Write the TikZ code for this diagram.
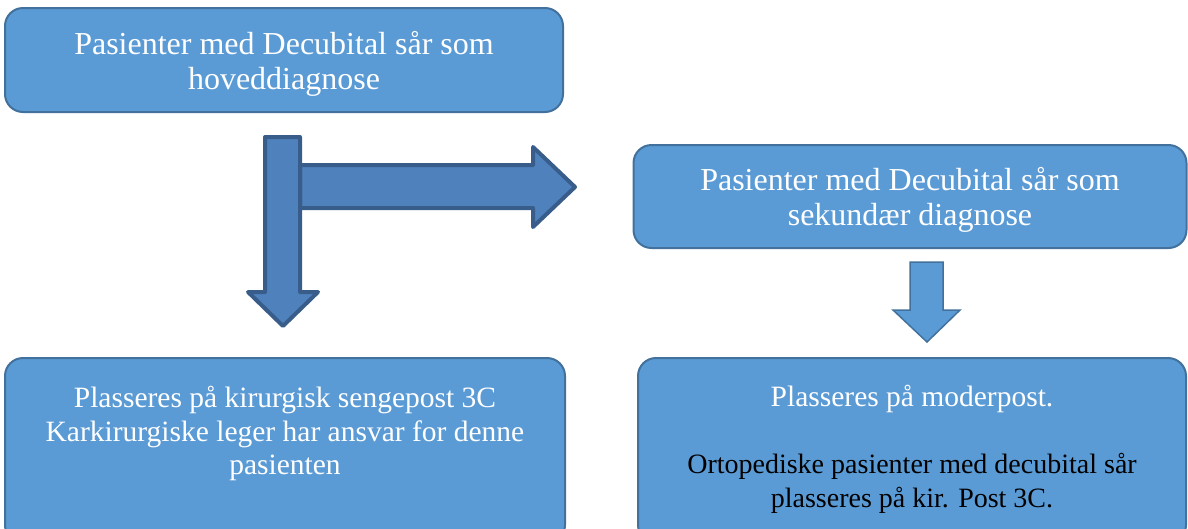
\documentclass[tikz,border=0pt]{standalone}
\usepackage{fontspec}
\setmainfont{Liberation Serif}
\usetikzlibrary{positioning}
\definecolor{boxfill}{HTML}{5B9BD5}
\definecolor{boxborder}{HTML}{41719C}
\definecolor{bentfill}{HTML}{4F81BD}
\definecolor{bentborder}{HTML}{385D8A}
\tikzset{
    x={1pt},
    y={-1pt},
    flow box/.style={
        rectangle, rounded corners={18},
        fill=boxfill, draw=boxborder,
        line width={2pt},
        inner sep=0pt, outer sep=0pt,
    },
    box text/.style={
        align=center,
        font={\fontsize{32}{35}\selectfont},
        text=white,
        inner sep=0pt,
    },
    small text/.style={
        box text,
        font={\fontsize{29.5}{33.5}\selectfont},
    },
    bent arrow/.style={
        fill=bentfill, draw=bentborder,
        line width={4pt},
        line join=round,
    },
    block arrow/.style={
        fill=boxfill, draw=boxborder,
        line width={1.5pt},
        line join=miter,
    },
}
\begin{document}
\begin{tikzpicture}
\useasboundingbox (0,0) rectangle (1188,528);
\clip (0,0) rectangle (1188,528);
% boxes
\node[flow box, minimum width={558}, minimum height={104}] (hoved) at (284,60) {};
\node[box text] (hovedtext) at (284,64) {Pasienter med Decubital sår som\\hoveddiagnose};
\node[flow box, minimum width={553}, minimum height={103}] (sekundaer) at (910,196.5) {};
\node[box text] (sekundaertext) at (910,200) {Pasienter med Decubital sår som\\sekundær diagnose};
\node[flow box, anchor=north, minimum width={560}, minimum height={185}] (kir) at (285,358) {};
\node[small text, below=28pt of kir.north] (kirtext) {Plasseres på kirurgisk sengepost 3C\\Karkirurgiske leger har ansvar for denne\\pasienten};
\node[flow box, anchor=north, minimum width={548}, minimum height={185}] (moder) at (912,358) {};
\node[small text, below=27pt of moder.north] (modertext) {Plasseres på moderpost.\\[33.5pt]\fontsize{28}{31.5}\selectfont\color{black}Ortopediske pasienter med decubital sår\\\fontsize{28}{31.5}\selectfont\color{black}plasseres på kir. Post 3C.};
% arrows
\path[bent arrow] (300,165) -- (533,165) -- (533,147) -- (575,187) -- (533,227) -- (533,208) -- (300,208) -- cycle;
\path[bent arrow] (265,137) -- (300,137) -- (300,292) -- (318,292) -- (283,326) -- (248,292) -- (265,292) -- cycle;
\path[block arrow] (910,262) -- (943,262) -- (943,310) -- (960,310) -- (927,342) -- (893,310) -- (910,310) -- cycle;
\end{tikzpicture}
\end{document}
